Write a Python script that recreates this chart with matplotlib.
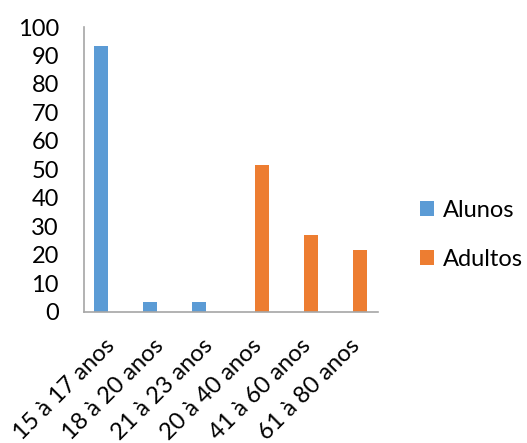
import numpy as np
import matplotlib.pyplot as plt
from matplotlib.transforms import ScaledTranslation

categorias = ['15 à 17 anos', '18 à 20 anos', '21 à 23 anos',
              '20 à 40 anos', '41 à 60 anos', '61 à 80 anos']
alunos = [93.4, 3.3, 3.3, 0, 0, 0]
adultos = [0, 0, 0, 51.4, 27.0, 21.6]

plt.rcParams['font.family'] = ['Lato', 'DejaVu Sans']

fig = plt.figure(figsize=(5.27, 4.43), dpi=100)
ax = fig.add_axes([0.159, 0.296, 0.558, 0.643])

x = np.arange(len(categorias))
w = 0.285
ax.bar(x - w / 2, alunos, w, color='#5b9bd5', label='Alunos')
ax.bar(x + w / 2, adultos, w, color='#ed7d31', label='Adultos')

ax.set_xlim(-0.5, len(categorias) - 0.5)
ax.set_ylim(0, 100)
ax.set_yticks(range(0, 101, 10))
ax.set_xticks(x)
ax.set_xticklabels(categorias, rotation=45, ha='right', rotation_mode='anchor')
ax.tick_params(length=0, labelsize=17, colors='black')
ax.tick_params(axis='y', pad=18)
ax.tick_params(axis='x', pad=17)
off = ScaledTranslation(-3 / 72, 0, fig.dpi_scale_trans)
for lbl in ax.get_xticklabels():
    lbl.set_transform(lbl.get_transform() + off)

for s in ['top', 'right']:
    ax.spines[s].set_visible(False)
for s in ['left', 'bottom']:
    ax.spines[s].set_color('#a6a6a6')
    ax.spines[s].set_linewidth(1.2)

fig.legend(loc='center left', bbox_to_anchor=(0.797, 0.47), frameon=False,
           fontsize=17, handlelength=0.6, handleheight=0.6, handletextpad=0.35,
           labelspacing=1.2, borderaxespad=0, borderpad=0)

fig.savefig('out.png', dpi=100)
